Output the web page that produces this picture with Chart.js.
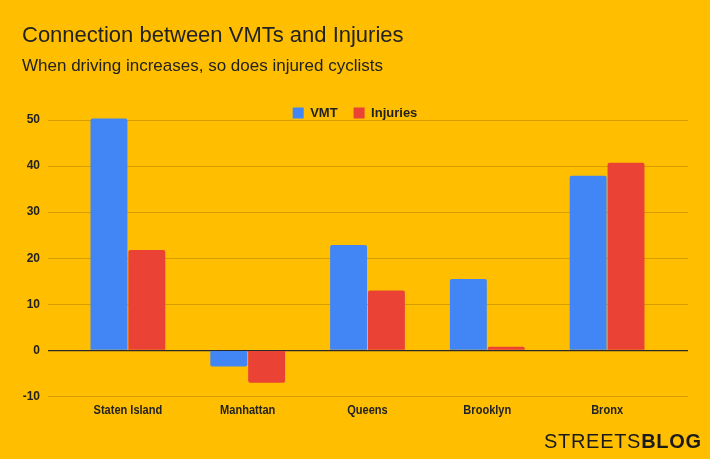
<!DOCTYPE html>
<html>
<head>
<meta charset="utf-8">
<script src="https://cdn.jsdelivr.net/npm/chart.js@4"></script>
<style>
  html, body { margin: 0; padding: 0; background: #FFBF00; }
  #wrap { width: 710px; height: 459px; position: relative; }
</style>
</head>
<body>
<div id="wrap"><canvas id="c" width="710" height="459"></canvas></div>
<script>
const categories = ["Staten Island", "Manhattan", "Queens", "Brooklyn", "Bronx"];
const vmtValues = [50.3, -3.5, 22.9, 15.5, 37.9];
const injuryValues = [21.8, -7.0, 13.0, 0.8, 40.7];
const yTicks = [-10, 0, 10, 20, 30, 40, 50];

const BG = '#FFBF00';
const TEXT = '#222222';

const bgPlugin = {
  id: 'bg',
  beforeDraw(chart) {
    const ctx = chart.ctx;
    ctx.save();
    ctx.fillStyle = BG;
    ctx.fillRect(0, 0, chart.width, chart.height);
    ctx.restore();
  }
};

// Draws the category labels in a slightly condensed style at the scale's own tick positions
const narrowLabels = {
  id: 'narrowLabels',
  afterDraw(chart) {
    const scale = chart.scales.x;
    const ctx = chart.ctx;
    ctx.save();
    ctx.fillStyle = TEXT;
    ctx.font = 'bold 12px "Liberation Sans", Arial, sans-serif';
    ctx.textAlign = 'center';
    ctx.textBaseline = 'middle';
    const y = chart.chartArea.bottom + 14;
    scale.ticks.forEach((t, i) => {
      const x = scale.getPixelForTick(i);
      const label = scale.getLabelForValue(t.value);
      ctx.save();
      ctx.translate(x, y);
      ctx.scale(0.92, 1);
      ctx.fillText(label, 0, 0);
      ctx.restore();
    });
    ctx.restore();
  }
};

const brandPlugin = {
  id: 'brand',
  afterDraw(chart) {
    const ctx = chart.ctx;
    ctx.save();
    ctx.fillStyle = '#1a1a1a';
    ctx.textBaseline = 'alphabetic';
    ctx.letterSpacing = '0.7px';
    const x0 = 544, y0 = 448;
    ctx.font = '20px "Liberation Sans", Arial, sans-serif';
    ctx.fillText('STREETS', x0, y0);
    const w = ctx.measureText('STREETS').width;
    ctx.font = 'bold 20px "Liberation Sans", Arial, sans-serif';
    ctx.fillText('BLOG', x0 + w, y0);
    ctx.restore();
  }
};

new Chart(document.getElementById('c'), {
  type: 'bar',
  data: {
    labels: categories,
    datasets: [
      { label: 'VMT', data: vmtValues, backgroundColor: '#4285F4', borderRadius: 2, clip: false },
      { label: 'Injuries', data: injuryValues, backgroundColor: '#EA4335', borderRadius: 2, clip: false }
    ]
  },
  options: {
    responsive: false,
    animation: false,
    devicePixelRatio: 1,
    categoryPercentage: 0.632,
    barPercentage: 0.975,
    layout: { padding: { top: 0, left: 22, right: 22, bottom: 22.5 } },
    plugins: {
      title: {
        display: true,
        text: 'Connection between VMTs and Injuries',
        align: 'start',
        color: TEXT,
        font: { family: '"Liberation Sans", Arial, sans-serif', size: 22, weight: 'normal', lineHeight: 1.2 },
        padding: { top: 23, bottom: 0 }
      },
      subtitle: {
        display: true,
        text: 'When driving increases, so does injured cyclists',
        align: 'start',
        color: TEXT,
        font: { family: '"Liberation Sans", Arial, sans-serif', size: 17, weight: 'normal', lineHeight: 1.2 },
        padding: { top: 7, bottom: 13.7 }
      },
      legend: {
        display: true,
        position: 'top',
        maxHeight: 29.5,
        labels: {
          boxWidth: 11,
          boxHeight: 11,
          padding: 16,
          color: TEXT,
          font: { family: '"Liberation Sans", Arial, sans-serif', size: 13, weight: 'bold' }
        }
      },
      tooltip: { enabled: false }
    },
    scales: {
      x: {
        offset: true,
        grid: { display: false, drawTicks: false },
        border: { display: false },
        ticks: {
          display: false,
          autoSkip: false,
          maxRotation: 0
        },
        afterBuildTicks(scale) {
          scale._startValue = -0.6669;
          scale._valueRange = 5.3422;
        },
        afterFit(scale) { scale.height = 40; }
      },
      y: {
        min: yTicks[0],
        max: yTicks[yTicks.length - 1],
        afterBuildTicks(scale) { scale.ticks = yTicks.map(v => ({ value: v })); },
        grid: {
          drawTicks: false,
          color: (c) => (c.tick && c.tick.value === 0) ? '#2a2a2a' : 'rgba(120,80,0,0.3)',
          lineWidth: (c) => (c.tick && c.tick.value === 0) ? 1.3 : 1
        },
        border: { display: false },
        ticks: {
          padding: 8,
          color: TEXT,
          font: { family: '"Liberation Sans", Arial, sans-serif', size: 12, weight: 'bold' }
        },
        afterFit(scale) { scale.width = 26; }
      }
    }
  },
  plugins: [bgPlugin, narrowLabels, brandPlugin]
});
</script>
</body>
</html>
